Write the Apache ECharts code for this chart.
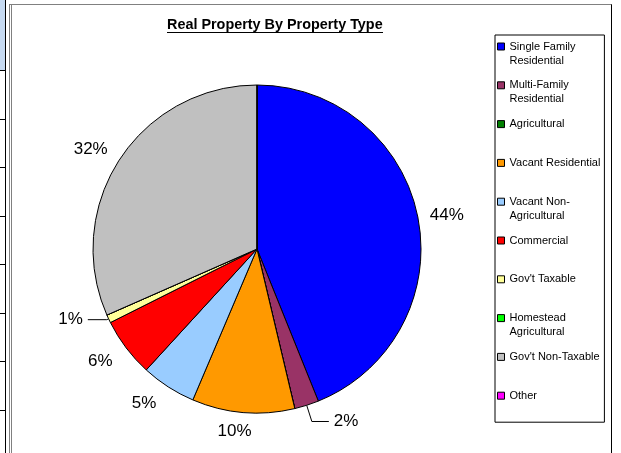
<!DOCTYPE html>
<html>
<head>
<meta charset="utf-8">
<title>Real Property By Property Type</title>
<script src="https://cdn.jsdelivr.net/npm/echarts/dist/echarts.min.js"></script>
<style>
  html, body { margin: 0; padding: 0; background: #fff; overflow: hidden; }
  /* strip of spreadsheet cells on the left */
  #sheet {
    position: absolute; left: 0; top: 0; width: 5px; height: 453px;
    border-right: 1px solid #000;
    background-image: linear-gradient(#c5d9f1 0, #c5d9f1 70px, transparent 70px),
      repeating-linear-gradient(#000 0, #000 1px, transparent 1px, transparent 48.5px);
    background-position: 0 0, 0 70px;
  }
  /* chart object border */
  #frame {
    position: absolute; left: 9px; top: 4px; width: 599px; height: 470px;
    border-top: 1px solid #808080; border-right: 1px solid #000;
    border-left: 3px double #808080;
  }
  #chart { position: absolute; left: 0; top: 0; width: 621px; height: 453px; }
</style>
</head>
<body>
<div id="sheet"></div>
<div id="frame"></div>
<div id="chart"></div>
<script>
// categories, in pie / legend order
const categories = [
  'Single Family Residential', 'Multi-Family Residential', 'Agricultural',
  'Vacant Residential', 'Vacant Non-Agricultural', 'Commercial',
  "Gov't Taxable", 'Homestead Agricultural', "Gov't Non-Taxable", 'Other'
];
// legend text as wrapped in the original
const legendLabels = [
  'Single Family\nResidential', 'Multi-Family\nResidential', 'Agricultural\n',
  'Vacant Residential\n', 'Vacant Non-\nAgricultural', 'Commercial\n',
  "Gov't Taxable\n", 'Homestead\nAgricultural', "Gov't Non-Taxable\n", 'Other\n'
];
// share of total (%)
const shares = [43.9, 2.4, 0, 10.1, 5.4, 5.8, 0.8, 0, 31.6, 0];
const colors = [
  '#0000ff', '#993366', '#008000', '#ff9900', '#99ccff',
  '#ff0000', '#ffff99', '#00ff00', '#c0c0c0', '#ff00ff'
];
// labels that were pulled out with a leader line
const leaderLabels = ['Multi-Family Residential', "Gov't Taxable"];

const font = 'Liberation Sans, Arial, sans-serif';
const myChart = echarts.init(document.getElementById('chart'));

// label distance from the arc: [radial length, horizontal length]
// (line stays invisible except for the leader labels)
const labelDist = {
  'Single Family Residential': [14, -7],
  'Multi-Family Residential': [17, 17],
  'Vacant Residential': [19, -15],
  'Vacant Non-Agricultural': [20, -4],
  'Commercial': [22, -9],
  "Gov't Taxable": [2, 19],
  "Gov't Non-Taxable": [19, -9]
};

const pieData = categories.map(function (name, i) {
  const item = { name: name, value: shares[i], itemStyle: { color: colors[i] } };
  if (shares[i] === 0) {
    item.label = { show: false };
    item.labelLine = { show: false };
  } else {
    item.labelLine = {
      length: labelDist[name][0],
      length2: labelDist[name][1],
      lineStyle: { opacity: leaderLabels.indexOf(name) >= 0 ? 1 : 0 }
    };
  }
  return item;
});

myChart.setOption({
  backgroundColor: 'transparent',
  animation: false,
  title: {
    text: 'Real Property By Property Type',
    left: 167,
    top: 18,
    padding: 0,
    textStyle: { fontSize: 14.4, fontWeight: 'bold', color: '#000', fontFamily: font }
  },
  // underline of the title
  graphic: [{
    type: 'rect',
    left: 167, top: 32,
    shape: { width: 216, height: 1 },
    style: { fill: '#000' }
  }],
  legend: {
    orient: 'vertical',
    left: 495,
    top: 35,
    padding: [4, 4, 5, 2],
    itemGap: 9.8,
    itemWidth: 7,
    itemHeight: 28,
    // small square sitting on the first text line
    icon: 'path://M0,0L0,0M0,3.5L7,3.5L7,10.5L0,10.5ZM0,28L0,28',
    borderColor: '#000',
    borderWidth: 1,
    selectedMode: false,
    itemStyle: { borderColor: '#000', borderWidth: 1 },
    textStyle: { fontSize: 11, lineHeight: 14, color: '#000', fontFamily: font },
    formatter: function (name) {
      return legendLabels[categories.indexOf(name)];
    },
    data: categories
  },
  series: [{
    type: 'pie',
    center: [257, 249],
    radius: 164,
    startAngle: 90,
    clockwise: true,
    avoidLabelOverlap: false,
    emphasis: { disabled: true },
    itemStyle: { borderColor: '#000', borderWidth: 1 },
    label: {
      show: true,
      position: 'outside',
      color: '#000',
      fontSize: 17,
      fontFamily: font,
      formatter: function (p) {
        return p.value > 0 ? Math.round(p.percent) + '%' : '';
      }
    },
    labelLine: {
      show: true,
      lineStyle: { color: '#000', width: 1 }
    },
    data: pieData
  }]
});
</script>
</body>
</html>
